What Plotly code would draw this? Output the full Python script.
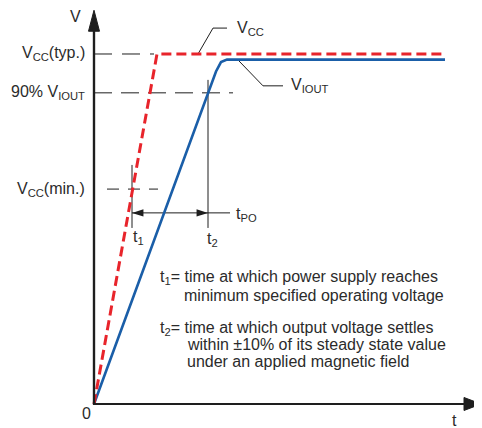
import plotly.graph_objects as go

# ---- data (arbitrary time units, volts normalised to VCC(typ.) = 1) ----
t_vcc = [0, 6.3, 34.9]
v_vcc = [0, 1.0, 1.0]

t_iout = [0, 12.2, 12.7, 13.3, 35.1]
v_iout = [0, 0.950, 0.977, 0.984, 0.984]

V_TYP = 1.0
V_90 = 0.889
V_MIN = 0.614
T1 = 3.8
T2 = 11.4
V_PO = 0.546

level_labels = ["V<sub>CC</sub>(typ.)", "90% V<sub>IOUT</sub>", "V<sub>CC</sub>(min.)"]
level_values = [V_TYP, V_90, V_MIN]

note_lines = [
    "t<sub>1</sub>= time at which power supply reaches",
    "minimum specified operating voltage",
    "t<sub>2</sub>= time at which output voltage settles",
    "within ±10% of its steady state value",
    "under an applied magnetic field",
]

T_END = 38.7
V_TOP = 1.125

FONT = "Liberation Sans, Arial, sans-serif"
TXT = "#2b2b2b"
LINE = "#1e1e1e"
FS = 16

# figure 474x420 (page body adds an 8px margin) -> pixel scale of the axes
X_RANGE = [-8.6, 38.8]
Y_RANGE = [-0.0686, 1.1314]
PX_X = 474 / (X_RANGE[1] - X_RANGE[0])
PX_Y = 420 / (Y_RANGE[1] - Y_RANGE[0])

fig = go.Figure()

def seg(x, y, color=LINE, width=1, dash="solid"):
    fig.add_trace(go.Scatter(x=x, y=y, mode="lines",
                             line=dict(color=color, width=width, dash=dash)))

# reference dashed lines
seg([0, 6.0], [V_TYP, V_TYP], dash="18px,10px")
seg([0, 13.9], [V_90, V_90], dash="18px,9px")
seg([1.3, 6.4], [V_MIN, V_MIN], dash="12px,9px")

# t1 / t2 markers
seg([T1, T1], [0.503, 0.683])
seg([T2, T2], [0.503, 0.926])
seg([T1, 13.6], [V_PO, V_PO])
fig.add_trace(go.Scatter(x=[T1, T2], y=[V_PO, V_PO], mode="markers",
                         marker=dict(symbol="arrow", size=12, angle=[-90, 90],
                                     color=LINE, line=dict(width=0))))

# callout leaders
seg([10.4, 11.9, 13.3], [V_TYP, 1.074, 1.074])
seg([14.4, 16.9, 18.9], [0.983, 0.909, 0.909])

# curves
fig.add_trace(go.Scatter(x=t_iout, y=v_iout, mode="lines",
                         line=dict(color="#1a5ea8", width=2.6)))
fig.add_trace(go.Scatter(x=t_vcc, y=v_vcc, mode="lines",
                         line=dict(color="#e8242b", width=3, dash="10px,5px")))

# axes: one polyline (up the V axis, down to the origin, along the t axis)
seg([0, 0, T_END - 14 / PX_X], [V_TOP - 18 / PX_Y, 0, 0], width=2.2)
# arrowheads
fig.add_trace(go.Scatter(
    x=[-5.5 / PX_X, 0, 5.5 / PX_X, -5.5 / PX_X],
    y=[V_TOP - 21 / PX_Y, V_TOP, V_TOP - 21 / PX_Y, V_TOP - 21 / PX_Y],
    mode="lines", fill="toself", fillcolor=LINE, line=dict(color=LINE, width=1)))
fig.add_trace(go.Scatter(
    x=[T_END - 17 / PX_X, T_END, T_END - 17 / PX_X, T_END - 17 / PX_X],
    y=[-6.5 / PX_Y, 0, 6.5 / PX_Y, -6.5 / PX_Y],
    mode="lines", fill="toself", fillcolor=LINE, line=dict(color=LINE, width=1)))

# axis lines also as layout shapes
shapes = [
    dict(type="line", xref="x", yref="y", x0=0, y0=0, x1=0, y1=V_TOP - 18 / PX_Y,
         line=dict(color=LINE, width=2.2), layer="above"),
    dict(type="line", xref="x", yref="y", x0=0, y0=0, x1=T_END - 14 / PX_X, y1=0,
         line=dict(color=LINE, width=2.2), layer="above"),
]

ann = []
def text(x, y, s, xanchor="left", xshift=0, yshift=0):
    ann.append(dict(x=x, y=y, xref="x", yref="y", text=s, showarrow=False,
                    xanchor=xanchor, yanchor="middle", xshift=xshift, yshift=yshift,
                    font=dict(family=FONT, size=FS, color=TXT)))

for lab, v in zip(level_labels, level_values):
    text(0, v, lab, xanchor="right", xshift=-7)
text(0, V_TOP, "V", xanchor="right", xshift=-11, yshift=-6)
text(0, 0, "0", xanchor="right", xshift=-1, yshift=-10)
text(T_END, 0, "t", xanchor="right", xshift=-22, yshift=-17)
text(T1, 0.503, "t<sub>1</sub>", xanchor="left", xshift=-1, yshift=-10)
text(T2, 0.503, "t<sub>2</sub>", xanchor="left", xshift=-3, yshift=-12)
text(13.6, V_PO, "t<sub>PO</sub>", xanchor="left", xshift=4, yshift=-2)
text(13.3, 1.074, "V<sub>CC</sub>", xanchor="left", xshift=8)
text(18.9, 0.909, "V<sub>IOUT</sub>", xanchor="left", xshift=6)

note_x = [6.4, 8.8, 6.4, 9.1, 9.1]
note_y = [0.36, 0.311, 0.217, 0.169, 0.12]
for s, x, y in zip(note_lines, note_x, note_y):
    text(x, y, s)

fig.update_layout(
    width=474, height=420,
    margin=dict(l=0, r=0, t=0, b=0),
    paper_bgcolor="white", plot_bgcolor="white",
    showlegend=False,
    xaxis=dict(visible=False, range=X_RANGE, fixedrange=True),
    yaxis=dict(visible=False, range=Y_RANGE, fixedrange=True),
    annotations=ann,
    shapes=shapes,
)

fig.write_html("out.html")
